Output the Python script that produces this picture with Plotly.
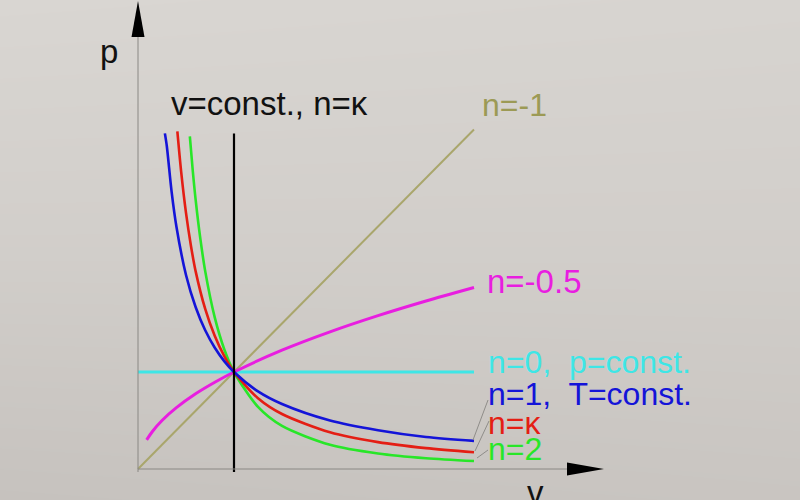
import plotly.graph_objects as go

# ---- data ----
# n = 1  (T = const.)
v_n1 = [0.28, 0.30, 0.35, 0.40, 0.50, 0.60, 0.70, 0.80, 0.90, 1.00, 1.25, 1.50, 2.00, 2.50, 3.00, 3.50]
p_n1 = [3.46, 3.33, 2.86, 2.50, 2.00, 1.67, 1.43, 1.25, 1.11, 1.00, 0.80, 0.67, 0.50, 0.40, 0.33, 0.29]
# n = kappa
v_nk = [0.41, 0.45, 0.50, 0.55, 0.60, 0.70, 0.80, 0.90, 1.00, 1.25, 1.50, 2.00, 2.50, 3.00, 3.50]
p_nk = [3.48, 3.06, 2.64, 2.31, 2.04, 1.65, 1.37, 1.16, 1.00, 0.73, 0.567, 0.379, 0.277, 0.215, 0.173]
# n = 2
v_n2 = [0.54, 0.57, 0.60, 0.65, 0.70, 0.80, 0.90, 1.00, 1.25, 1.50, 2.00, 2.50, 3.00, 3.50]
p_n2 = [3.43, 3.08, 2.78, 2.37, 2.04, 1.56, 1.23, 1.00, 0.64, 0.444, 0.25, 0.16, 0.111, 0.082]
# n = -0.5
v_nm05 = [0.09, 0.15, 0.25, 0.40, 0.60, 0.80, 1.00, 1.50, 2.00, 2.50, 3.00, 3.50]
p_nm05 = [0.30, 0.387, 0.50, 0.632, 0.775, 0.894, 1.00, 1.225, 1.414, 1.581, 1.732, 1.871]
# n = -1
v_nm1 = [0.0, 3.5]
p_nm1 = [0.0, 3.5]
# n = 0 (p = const.)
v_n0 = [0.0, 3.5]
p_n0 = [1.0, 1.0]
# v = const. (n = infinity)
v_vc = [1.0, 1.0]
p_vc = [-0.03, 3.46]

C_OLIVE = "#a9a66c"
C_MAG = "#e81ee0"
C_CYAN = "#3ee6e6"
C_BLUE = "#1414d8"
C_RED = "#e41e14"
C_GREEN = "#28e628"

FONT = "Liberation Sans, Arial, sans-serif"


# pixel -> data helpers for the frame: v=(px-138)/96, p=(469-py)/97
def dv(px):
    return (px - 138) / 96.0


def dp(py):
    return (469 - py) / 97.0


fig = go.Figure()

# soft background shading (paper texture approximation)
fig.add_trace(go.Heatmap(
    x=[dv(0), dv(800)], y=[dp(500), dp(250), dp(0)],
    z=[[0.0, 0.15], [0.6, 0.6], [1.0, 0.9]], zsmooth="best",
    colorscale=[[0, "#c6c2be"], [1, "#d9d6d2"]], showscale=False,
    hoverinfo="skip"))


def line(x, y, color, width, spline=False):
    fig.add_trace(go.Scatter(
        x=x, y=y, mode="lines",
        line=dict(color=color, width=width, shape="spline" if spline else "linear", smoothing=0.8),
        hoverinfo="skip", showlegend=False))


line(v_nm1, p_nm1, C_OLIVE, 2)
line(v_n0, p_n0, C_CYAN, 3)
line(v_nm05, p_nm05, C_MAG, 3, True)
line(v_n2, p_n2, C_GREEN, 2.6, True)
line(v_nk, p_nk, C_RED, 2.6, True)
line(v_n1, p_n1, C_BLUE, 2.6, True)
line(v_vc, p_vc, "#000000", 2.2)

shapes = [
    # axes (thin grey)
    dict(type="line", x0=dv(138), y0=dp(472), x1=dv(138), y1=dp(30), line=dict(color="#8a8884", width=1)),
    dict(type="line", x0=dv(138), y0=dp(469), x1=dv(568), y1=dp(469), line=dict(color="#8a8884", width=1)),
    # arrow heads
    dict(type="path",
         path=f"M {dv(131.5)} {dp(37)} L {dv(138)} {dp(1)} L {dv(144.5)} {dp(37)} Z",
         fillcolor="#000000", line=dict(width=0)),
    dict(type="path",
         path=f"M {dv(567)} {dp(462.5)} L {dv(604)} {dp(469)} L {dv(567)} {dp(475.5)} Z",
         fillcolor="#000000", line=dict(width=0)),
    # leader lines
    dict(type="line", x0=dv(473), y0=dp(440), x1=dv(488), y1=dp(400), line=dict(color="#8f8d89", width=1)),
    dict(type="line", x0=dv(475), y0=dp(451), x1=dv(489), y1=dp(421), line=dict(color="#8f8d89", width=1)),
    dict(type="line", x0=dv(477), y0=dp(458), x1=dv(488), y1=dp(450), line=dict(color="#8f8d89", width=1)),
]


def label(text, px, py, color, size=32, xanchor="left", yanchor="middle"):
    return dict(text=text, x=px / 800.0, y=1 - py / 500.0, xref="paper", yref="paper",
                xanchor=xanchor, yanchor=yanchor, showarrow=False, borderpad=0,
                font=dict(family=FONT, size=size, color=color))


annotations = [
    label("p", 109, 52, "#111111", 33, "center"),
    label("v", 535, 492, "#111111", 33, "center"),
    label("v=const., n=κ", 269, 104, "#111111", 33, "center"),
    label("n=-1", 514, 105, "#9c9a55", 32, "center"),
    label("n=-0.5", 486, 281, C_MAG, 33),
    label("n=0,  p=const.", 487, 362, C_CYAN, 32),
    label("n=1,  T=const.", 487, 394, C_BLUE, 32),
    label("n=κ", 487, 423, C_RED, 32),
    label("n=2", 487, 449, C_GREEN, 32),
]

fig.update_layout(
    width=800, height=500,
    margin=dict(l=0, r=0, t=0, b=0),
    paper_bgcolor="#d3cfcb",
    plot_bgcolor="rgba(0,0,0,0)",
    xaxis=dict(range=[dv(0), dv(800)], visible=False, fixedrange=True),
    yaxis=dict(range=[dp(500), dp(0)], visible=False, fixedrange=True),
    shapes=shapes,
    annotations=annotations,
    showlegend=False,
)

fig.write_html("out.html", config={"displayModeBar": False},
               post_script="document.body.style.margin='0px';document.body.style.overflow='hidden';")
